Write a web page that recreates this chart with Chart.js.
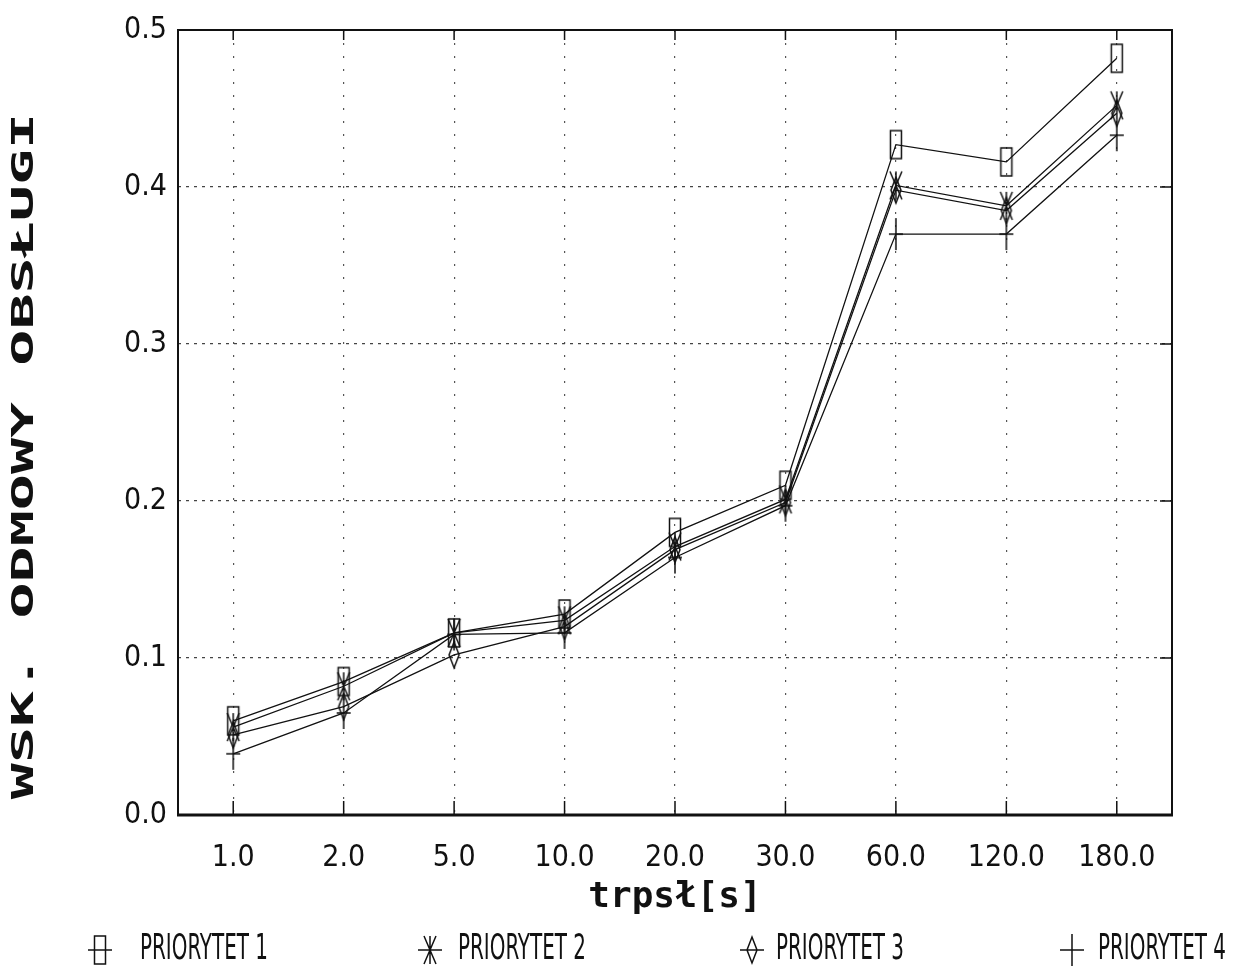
<!DOCTYPE html>
<html>
<head>
<meta charset="utf-8">
<script src="https://cdn.jsdelivr.net/npm/chart.js@4"></script>
<style>
  html, body { margin: 0; padding: 0; background: #fff; }
  #wrap { width: 1238px; height: 979px; }
</style>
</head>
<body>
<div id="wrap"><canvas id="odmowy"></canvas></div>
<script>
// czas trwania polaczenia [s] - kategorie osi X
const categories = ['1.0', '2.0', '5.0', '10.0', '20.0', '30.0', '60.0', '120.0', '180.0'];

// wskaznik odmowy obslugi
const priorytet1 = [0.060, 0.085, 0.116, 0.128, 0.180, 0.210, 0.427, 0.416, 0.482];
const priorytet2 = [0.056, 0.082, 0.116, 0.124, 0.171, 0.201, 0.401, 0.388, 0.452];
const priorytet3 = [0.051, 0.069, 0.102, 0.120, 0.169, 0.199, 0.398, 0.385, 0.447];
const priorytet4 = [0.039, 0.065, 0.115, 0.116, 0.164, 0.197, 0.370, 0.370, 0.433];

const seriesNames = ['PRIORYTET 1', 'PRIORYTET 2', 'PRIORYTET 3', 'PRIORYTET 4'];
const markerKinds = ['rect', 'star', 'diamond', 'plus'];
const yTickLabels = ['0.0', '0.1', '0.2', '0.3', '0.4', '0.5'];
const xTitle = 'trpsł[s]';
const yTitle = 'WSK. ODMOWY OBSŁUGI';

const INK = '#111';
const NARROW = "'Liberation Sans Narrow', 'DejaVu Sans Condensed', 'Roboto Condensed', 'Liberation Sans', sans-serif";

function makeMarker(kind, legend) {
    const w = legend ? 30 : 16, h = 34;
    const c = document.createElement('canvas');
    c.width = w; c.height = h;
    const g = c.getContext('2d');
    g.strokeStyle = INK;
    g.lineWidth = 1.5;
    const cx = w / 2, cy = h / 2;
    g.beginPath();
    if (kind === 'rect') {
        g.rect(cx - 5.5, cy - 14, 11, 28);
    } else if (kind === 'star') {
        g.moveTo(cx, cy - 14); g.lineTo(cx, cy + 14);
        g.moveTo(cx - 6, cy - 14); g.lineTo(cx + 6, cy + 14);
        g.moveTo(cx + 6, cy - 14); g.lineTo(cx - 6, cy + 14);
    } else if (kind === 'diamond') {
        g.moveTo(cx, cy - 13); g.lineTo(cx + 5, cy);
        g.lineTo(cx, cy + 13); g.lineTo(cx - 5, cy); g.closePath();
    } else {
        g.moveTo(cx, cy - 16); g.lineTo(cx, cy + 16);
        g.moveTo(cx - 7, cy); g.lineTo(cx + 7, cy);
    }
    if (legend) {
        g.moveTo(cx - 12, cy); g.lineTo(cx + 12, cy);
    }
    g.stroke();
    return c;
}

const pointMarkers = markerKinds.map(k => makeMarker(k, false));
const legendMarkers = markerKinds.map(k => makeMarker(k, true));

// ramka wykresu i kreski podzialki skierowane do srodka
const framePlugin = {
    id: 'frame',
    beforeDatasetsDraw(chart) {
        const { ctx, chartArea: a, scales: { x, y } } = chart;
        ctx.save();
        ctx.strokeStyle = INK;
        ctx.lineWidth = 2;
        ctx.strokeRect(a.left, a.top, a.right - a.left, a.bottom - a.top);
        ctx.lineWidth = 3;
        ctx.beginPath();
        ctx.moveTo(a.left - 1, a.bottom); ctx.lineTo(a.right + 1, a.bottom);
        ctx.stroke();
        ctx.lineWidth = 1.5;
        ctx.beginPath();
        x.ticks.forEach((t, i) => {
            const px = x.getPixelForTick(i);
            ctx.moveTo(px, a.bottom); ctx.lineTo(px, a.bottom - 14);
            ctx.moveTo(px, a.top); ctx.lineTo(px, a.top + 10);
        });
        y.ticks.forEach((t, i) => {
            const py = y.getPixelForTick(i);
            ctx.moveTo(a.right, py); ctx.lineTo(a.right - 12, py);
        });
        ctx.stroke();
        ctx.restore();
    }
};

// pionowy opis osi Y (szeroka, blokowa czcionka jak na oryginale)
const yTitlePlugin = {
    id: 'yTitle',
    afterDraw(chart) {
        const { ctx } = chart;
        ctx.save();
        ctx.translate(25, 456);
        ctx.rotate(-Math.PI / 2);
        ctx.scale(2.0, 1);
        ctx.font = "bold 30px 'DejaVu Sans Mono', monospace";
        ctx.fillStyle = INK;
        ctx.textAlign = 'center';
        ctx.textBaseline = 'middle';
        ctx.fillText(yTitle, 0, 0);
        ctx.restore();
    }
};

// legenda w jednym rzedzie pod osia X
const legendRowPlugin = {
    id: 'legendRow',
    afterDraw(chart) {
        const { ctx } = chart;
        const markerX = [100, 430, 752, 1072];
        const textX = [140, 458, 776, 1098];
        const yc = 950;
        ctx.save();
        ctx.font = '36px ' + NARROW;
        ctx.fillStyle = INK;
        ctx.textBaseline = 'middle';
        chart.data.datasets.forEach((ds, i) => {
            const img = legendMarkers[i];
            ctx.drawImage(img, markerX[i] - img.width / 2, yc - img.height / 2);
            const tw = ctx.measureText(ds.label).width;
            ctx.save();
            ctx.translate(textX[i], yc);
            ctx.scale(128 / tw, 1);
            ctx.fillText(ds.label, 0, 0);
            ctx.restore();
        });
        ctx.restore();
    }
};

function series(label, data, i) {
    return {
        label,
        data,
        borderColor: INK,
        borderWidth: 1.3,
        pointStyle: pointMarkers[i],
        pointRadius: 6,
        fill: false,
        tension: 0
    };
}

new Chart(document.getElementById('odmowy'), {
    type: 'line',
    data: {
        labels: categories,
        datasets: [
            series(seriesNames[0], priorytet1, 0),
            series(seriesNames[1], priorytet2, 1),
            series(seriesNames[2], priorytet3, 2),
            series(seriesNames[3], priorytet4, 3)
        ]
    },
    options: {
        responsive: true,
        maintainAspectRatio: false,
        animation: false,
        layout: { padding: { left: 0, right: 66, top: 30, bottom: 60 } },
        plugins: {
            legend: { display: false },
            tooltip: { enabled: false }
        },
        scales: {
            x: {
                offset: true,
                afterFit: s => { s.height = 104; },
                grid: {
                    color: '#555',
                    lineWidth: 1.2,
                    drawTicks: false,
                    offset: false
                },
                border: { display: false, dash: [2, 11] },
                ticks: {
                    color: INK,
                    padding: 25,
                    maxRotation: 0,
                    font: { family: NARROW, size: 30 }
                },
                title: {
                    display: true,
                    text: xTitle,
                    color: INK,
                    padding: { top: 0, bottom: 0 },
                    font: { family: "'DejaVu Sans Mono', monospace", size: 36, weight: 'bold' }
                }
            },
            y: {
                min: 0,
                max: 0.5,
                afterFit: s => { s.width = 178; },
                grid: {
                    color: '#444',
                    lineWidth: 1.2,
                    drawTicks: false
                },
                border: { display: false, dash: [3, 5] },
                ticks: {
                    stepSize: 0.1,
                    color: INK,
                    padding: 11,
                    font: { family: NARROW, size: 30 },
                    callback: (v, i) => yTickLabels[i]
                }
            }
        }
    },
    plugins: [framePlugin, yTitlePlugin, legendRowPlugin]
});
</script>
</body>
</html>
